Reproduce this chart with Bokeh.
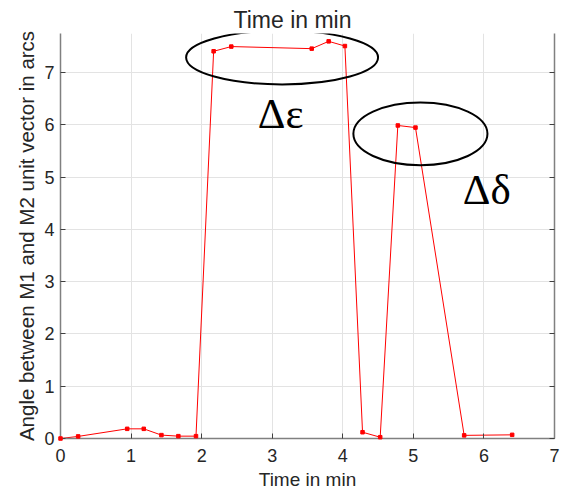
from bokeh.plotting import figure
from bokeh.models import LinearAxis, Range1d, FixedTicker
from bokeh.core.properties import value
from bokeh.embed import file_html
from bokeh.resources import INLINE

# data (minutes, arcs)
time_min = [0.0, 0.25, 0.945, 1.18, 1.43, 1.67, 1.92, 2.17, 2.42, 3.56, 3.80, 4.03,
            4.28, 4.53, 4.78, 5.03, 5.72, 6.40]
angle_arcs = [0.0, 0.04, 0.185, 0.185, 0.065, 0.045, 0.045, 7.41, 7.50, 7.46, 7.60, 7.51,
              0.12, 0.025, 5.99, 5.95, 0.06, 0.07]

x_ticks = [0, 1, 2, 3, 4, 5, 6, 7]
y_ticks = [0, 1, 2, 3, 4, 5, 6, 7]

# annotation ellipses and labels
ell_x = [3.14, 5.10]
ell_y = [7.29, 5.83]
ell_w = [2.72, 1.90]
ell_h = [1.03, 1.20]
ann_x = [3.12, 6.04]
ann_y = [6.21, 4.77]
ann_text = ["Δε", "Δδ"]

TXT = "#262626"
AX = "#808080"
FONT = "Liberation Sans"

p = figure(width=571, height=492, output_backend="svg", toolbar_location=None,
           x_range=Range1d(0, 7), y_range=Range1d(0, 7.75),
           min_border_left=60, min_border_right=17, min_border_top=33, min_border_bottom=54)
p.outline_line_color = None
p.background_fill_color = "white"
p.border_fill_color = "white"

p.title.text = "Time in min"
p.title.align = "left"
p.title.offset = 173
p.title.standoff = 1
p.title.text_font = FONT
p.title.text_font_size = "23px"
p.title.text_font_style = "normal"
p.title.text_color = TXT

for ax in [p.xaxis[0], p.yaxis[0]]:
    ax.axis_line_color = AX
    ax.axis_line_width = 1.5
    ax.major_tick_line_color = "#404040"
    ax.major_tick_in = 5
    ax.major_tick_out = 0
    ax.minor_tick_line_color = None
    ax.major_label_text_font = FONT
    ax.major_label_text_font_size = "18px"
    ax.major_label_text_color = TXT
    ax.axis_label_text_font = FONT
    ax.axis_label_text_font_style = "normal"
    ax.axis_label_text_color = TXT

p.xaxis[0].ticker = FixedTicker(ticks=x_ticks)
p.yaxis[0].ticker = FixedTicker(ticks=y_ticks)
p.xaxis[0].axis_label = "Time in min"
p.yaxis[0].axis_label = "Angle between M1 and M2 unit vector in arcs"
p.xaxis[0].axis_label_text_font_size = "19px"
p.yaxis[0].axis_label_text_font_size = "20.5px"
p.xaxis[0].major_label_standoff = 10
p.xaxis[0].axis_label_standoff = 4
p.yaxis[0].major_label_standoff = 6
p.yaxis[0].axis_label_standoff = 3

ry = LinearAxis(ticker=FixedTicker(ticks=y_ticks))
ry.axis_line_color = AX
ry.axis_line_width = 1.5
ry.major_tick_line_color = "#404040"
ry.major_tick_in = 5
ry.major_tick_out = 0
ry.minor_tick_line_color = None
ry.major_label_overrides = {tk: "" for tk in y_ticks}
ry.major_label_standoff = 0
p.add_layout(ry, "right")

p.xgrid.grid_line_color = "#e3e3e3"
p.ygrid.grid_line_color = "#e3e3e3"
p.xgrid.ticker = FixedTicker(ticks=x_ticks)
p.ygrid.ticker = FixedTicker(ticks=y_ticks)

p.line(time_min, angle_arcs, line_color="#ff0000", line_width=1)
p.scatter(time_min, angle_arcs, marker="square", size=3.5, fill_color="#ff0000",
          line_color="#ff0000", level="overlay")

p.ellipse(x=ell_x, y=ell_y, width=ell_w, height=ell_h, fill_color=None,
          line_color="black", line_width=2)

p.text(x=ann_x, y=ann_y, text=ann_text, text_font=value("Liberation Serif"),
       text_font_size="43px", text_align="center", text_baseline="middle",
       text_color="black")

open("out.html", "w").write(file_html(p, INLINE))
